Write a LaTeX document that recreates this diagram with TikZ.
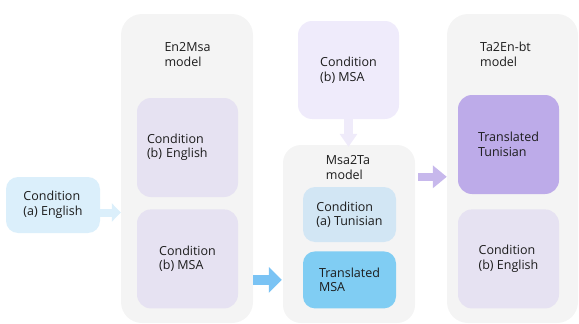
\documentclass[tikz,border=0pt]{standalone}
\usepackage{fontspec}
\setmainfont{Open Sans}
\usetikzlibrary{positioning,arrows.meta}
\definecolor{panelgray}{HTML}{F4F4F4}
\definecolor{engblue}{HTML}{DBEFFB}
\definecolor{lavlight}{HTML}{E6E2F2}
\definecolor{lavtop}{HTML}{EFEBFB}
\definecolor{tunblue}{HTML}{D2E6F4}
\definecolor{msablue}{HTML}{80CDF3}
\definecolor{tunpurple}{HTML}{BDABE9}
\definecolor{txtgray}{HTML}{1C1C1C}
\tikzset{
  panel/.style={rectangle,rounded corners=21pt,fill=panelgray,minimum width=132pt,inner sep=0pt},
  base/.style={rectangle,align=left,inner sep=0pt,text=txtgray,font=\fontsize{12.5}{14.5}\selectfont},
  bigbox/.style={base,rounded corners=14pt,minimum width=101pt,minimum height=99pt},
  smallbox/.style={base,rounded corners=12pt,minimum width=93pt,minimum height=56pt},
  lab/.style={base},
  blk/.style={line cap=butt,line join=miter},
}

\begin{document}
\begin{tikzpicture}[x=1pt,y=-1pt]
\useasboundingbox (0,0) rectangle (579,324);

% ---- model panels ----
\node[panel,minimum height=309pt] (p1) at (187,168.5) {};
\node[panel,minimum height=178pt,rounded corners=18pt] (p2) at (349,234) {};
\node[panel,minimum height=309pt,minimum width=131pt] (p3) at (512.5,168.5) {};
\node[lab] at (187.5,54.5) {En2Msa\\model};
\node[lab] at (348,167.5) {Msa2Ta\\model};
\node[lab] at (505.5,54.5) {Ta2En-bt\\model};

% ---- inputs ----
\node[smallbox,fill=engblue,minimum width=94pt] (a1) at (53,205) {Condition\\(a) English};
\node[bigbox,fill=lavtop,minimum height=98pt] (t1) at (348.5,70) {Condition\\(b) MSA};

% ---- En2Msa ----
\node[bigbox,fill=lavlight,text width=81pt] (b1) at (187.5,147.5) {Condition\\(b) English};
\node[bigbox,fill=lavlight,below=12pt of b1] (b2) {Condition\\(b) MSA};

% ---- Msa2Ta ----
\node[smallbox,fill=tunblue,minimum height=55pt] (c1) at (349.5,214.5) {Condition\\(a) Tunisian};
\node[smallbox,fill=msablue,minimum height=57pt,below=9pt of c1] (c2) {Translated\\MSA};

% ---- Ta2En-bt ----
\node[bigbox,fill=tunpurple] (d1) at (508.5,144.5) {Translated\\Tunisian};
\node[bigbox,fill=lavlight,below=15pt of d1] (d2) {Condition\\(b) English};

% ---- block arrows ----
\draw[blk,draw=engblue,line width=8pt,-{Triangle[length=9pt,width=18pt]}]
  ([yshift=-7.5pt]a1.east) -- ([yshift=-7.5pt]a1.east -| p1.west);
\draw[blk,draw=msablue!95!blue,line width=10pt,-{Triangle[length=13pt,width=25pt]}]
  (p1.east |- c2) -- ([xshift=-1pt]p2.west |- c2);
\draw[blk,draw=lavtop!80!tunpurple!60,line width=9pt,-{Triangle[length=13pt,width=17pt]}]
  (t1.south) -- ([yshift=-2pt]t1.south |- p2.north);
\draw[blk,draw=tunpurple!85,line width=8.5pt,-{Triangle[length=14pt,width=22pt]}]
  ([xshift=3pt,yshift=-32pt]p2.north east) -- ([yshift=-32pt]p2.north east -| p3.west);
\end{tikzpicture}
\end{document}
